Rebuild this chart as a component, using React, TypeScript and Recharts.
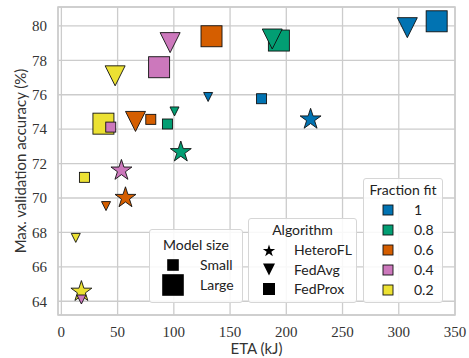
import React from "react"
import { CartesianGrid, ReferenceArea, Scatter, ScatterChart, XAxis, YAxis } from "recharts"

// fraction fit order: 1, 0.8, 0.6, 0.4, 0.2
const fractions = ["1", "0.8", "0.6", "0.4", "0.2"]
const fractionColors = ["#0173b2", "#029e73", "#d55e00", "#cc78bc", "#ece133"]

const heteroEta = [221.6, 106.2, 57.0, 53.4, 17.8]
const heteroAcc = [74.63, 72.73, 70.07, 71.66, 64.62]

const fedProxLargeEta = [333.7, 193.4, 133.5, 86.9, 37.4]
const fedProxLargeAcc = [80.27, 79.15, 79.4, 77.6, 74.32]

const fedAvgLargeEta = [307.6, 187.5, 65.9, 96.7, 47.8]
const fedAvgLargeAcc = [79.9, 79.24, 74.45, 79.03, 77.1]

const fedProxSmallEta = [178.0, 94.3, 79.5, 43.9, 20.5]
const fedProxSmallAcc = [75.77, 74.3, 74.57, 74.12, 71.2]

const fedAvgSmallEta = [130.5, 100.6, 39.7, 17.8, 12.8]
const fedAvgSmallAcc = [75.87, 75.03, 69.53, 64.1, 67.68]

const xTicks = [0, 50, 100, 150, 200, 250, 300, 350]
const yTicks = [64, 66, 68, 70, 72, 74, 76, 78, 80]

type Kind = "star" | "tri" | "square"

function toPoints(eta: number[], acc: number[]) {
  return eta.map((x, i) => ({ eta: x, acc: acc[i], color: fractionColors[i], fraction: fractions[i] }))
}

const series: { name: string; kind: Kind; half: number; data: ReturnType<typeof toPoints> }[] = [
  { name: "HeteroFL", kind: "star", half: 11, data: toPoints(heteroEta, heteroAcc) },
  { name: "FedProx large", kind: "square", half: 10.5, data: toPoints(fedProxLargeEta, fedProxLargeAcc) },
  { name: "FedAvg large", kind: "tri", half: 10, data: toPoints(fedAvgLargeEta, fedAvgLargeAcc) },
  { name: "FedProx small", kind: "square", half: 5, data: toPoints(fedProxSmallEta, fedProxSmallAcc) },
  { name: "FedAvg small", kind: "tri", half: 4.5, data: toPoints(fedAvgSmallEta, fedAvgSmallAcc) },
]

function starPath(cx: number, cy: number, r: number) {
  const inner = r * 0.381966
  const pts: string[] = []
  for (let i = 0; i < 10; i++) {
    const rr = i % 2 === 0 ? r : inner
    const a = (Math.PI / 5) * i - Math.PI / 2
    pts.push(`${cx + rr * Math.cos(a)},${cy + rr * Math.sin(a)}`)
  }
  return `M${pts.join("L")}Z`
}

function MarkerShape({ kind, cx, cy, half, fill, stroke = "#111", sw = 0.9 }: {
  kind: Kind; cx: number; cy: number; half: number; fill: string; stroke?: string; sw?: number
}) {
  if (kind === "square") {
    return <rect x={cx - half} y={cy - half} width={half * 2} height={half * 2} fill={fill} stroke={stroke} strokeWidth={sw} />
  }
  if (kind === "tri") {
    return <path d={`M${cx - half},${cy - half}L${cx + half},${cy - half}L${cx},${cy + half}Z`} fill={fill} stroke={stroke} strokeWidth={sw} strokeLinejoin="miter" />
  }
  return <path d={starPath(cx, cy + 1, half)} fill={fill} stroke={stroke} strokeWidth={sw} />
}

const sans = "Lato, 'Open Sans', sans-serif"
const serif = "'Liberation Serif', 'DejaVu Serif', serif"

const boxStyle: React.CSSProperties = {
  position: "absolute",
  background: "rgba(255,255,255,0.85)",
  border: "1px solid #d6d6d6",
  borderRadius: 3,
  fontFamily: sans,
  fontSize: 14,
  color: "#222",
}

function Row({ y, x, text }: { y: number; x: number; text: string }) {
  return (
    <span style={{ position: "absolute", left: x, top: y, transform: "translateY(-50%)", lineHeight: 1, whiteSpace: "nowrap" }}>
      {text}
    </span>
  )
}

function Legends() {
  const algo: { label: string; kind: Kind }[] = [
    { label: "HeteroFL", kind: "star" },
    { label: "FedAvg", kind: "tri" },
    { label: "FedProx", kind: "square" },
  ]
  return (
    <>
      <div style={{ ...boxStyle, left: 149, top: 229, width: 92, height: 72 }}>
        <span style={{ position: "absolute", left: 0, width: 92, textAlign: "center", top: 15, transform: "translateY(-50%)", lineHeight: 1 }}>Model size</span>
        <svg width={92} height={72} style={{ position: "absolute", left: 0, top: 0 }}>
          <rect x={23 - 5.8} y={35 - 5.8} width={11.6} height={11.6} fill="#000" />
          <rect x={23 - 10.8} y={55 - 10.8} width={21.6} height={21.6} fill="#000" />
        </svg>
        <Row x={50} y={35} text="Small" />
        <Row x={50} y={55} text="Large" />
      </div>
      <div style={{ ...boxStyle, left: 248, top: 218, width: 107, height: 83 }}>
        <span style={{ position: "absolute", left: 0, width: 107, textAlign: "center", top: 11, transform: "translateY(-50%)", lineHeight: 1 }}>Algorithm</span>
        <svg width={107} height={83} style={{ position: "absolute", left: 0, top: 0 }}>
          {algo.map((a, i) => (
            <MarkerShape key={a.label} kind={a.kind} cx={20} cy={31 + i * 19.5} half={a.kind === "star" ? 6.5 : 6} fill="#000" stroke="#000" sw={0} />
          ))}
        </svg>
        {algo.map((a, i) => (
          <Row key={a.label} x={45} y={31 + i * 19.5} text={a.label} />
        ))}
      </div>
      <div style={{ ...boxStyle, left: 363, top: 178, width: 78, height: 123 }}>
        <span style={{ position: "absolute", left: 0, width: 78, textAlign: "center", top: 11, transform: "translateY(-50%)", lineHeight: 1 }}>Fraction fit</span>
        <svg width={78} height={123} style={{ position: "absolute", left: 0, top: 0 }}>
          {fractions.map((f, i) => (
            <rect key={f} x={24 - 5} y={31 + i * 20 - 5} width={10} height={10} fill={fractionColors[i]} stroke="#111" strokeWidth={0.9} />
          ))}
        </svg>
        {fractions.map((f, i) => (
          <Row key={f} x={50} y={31 + i * 20} text={f} />
        ))}
      </div>
    </>
  )
}

export default function App() {
  return (
    <div style={{ position: "absolute", left: 0, top: 0, width: 469, height: 358, background: "#fff" }}>
      <ScatterChart width={469} height={358} margin={{ top: 7, right: 14, bottom: 0, left: 0 }}>
        <CartesianGrid stroke="#cccccc" strokeWidth={1.3} />
        <XAxis
          type="number"
          dataKey="eta"
          domain={[-3, 350]}
          ticks={xTicks}
          allowDataOverflow
          height={43}
          tickLine={false}
          axisLine={false}
          tickMargin={5}
          tick={{ fill: "#333", fontSize: 15, fontFamily: serif }}
          label={{ value: "ETA (kJ)", position: "insideBottom", offset: 4, fill: "#333", fontSize: 15, fontFamily: sans }}
        />
        <YAxis
          type="number"
          dataKey="acc"
          domain={[63.2, 81.1]}
          ticks={yTicks}
          allowDataOverflow
          width={58}
          tickLine={false}
          axisLine={false}
          tickMargin={5}
          tick={{ fill: "#333", fontSize: 15, fontFamily: serif }}
          label={{ value: "Max. validation accuracy (%)", angle: -90, position: "insideLeft", offset: 21, style: { textAnchor: "middle" }, fill: "#333", fontSize: 15, fontFamily: sans }}
        />
        <ReferenceArea x1={-3} x2={350} y1={63.2} y2={81.1} fill="none" stroke="#cccccc" strokeWidth={1.6} />
        {series.map((s) => (
          <Scatter
            key={s.name}
            name={s.name}
            data={s.data}
            isAnimationActive={false}
            shape={(p: any) => <MarkerShape kind={s.kind} cx={p.cx} cy={p.cy} half={s.half} fill={p.payload.color} />}
          />
        ))}
      </ScatterChart>
      <Legends />
    </div>
  )
}
